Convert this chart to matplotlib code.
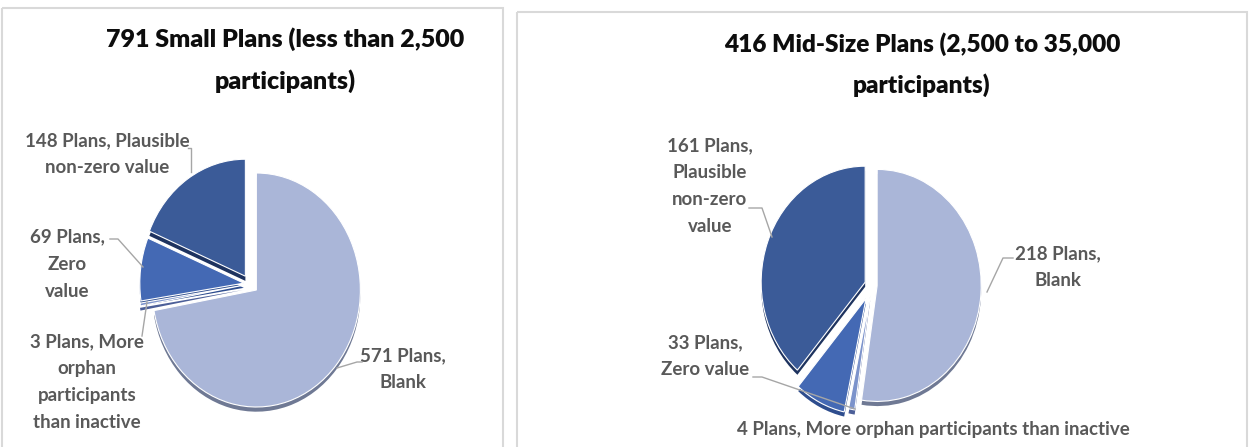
import matplotlib
matplotlib.use('Agg')
import matplotlib.pyplot as plt
from matplotlib.patches import Rectangle

W, H = 1249, 447

# ---- data ----
categories = ["Blank", "More orphan participants than inactive", "Zero value", "Plausible non-zero value"]
small_values = [571, 3, 69, 148]
mid_values = [218, 4, 33, 161]
small_title = "791 Small Plans (less than 2,500\nparticipants)"
mid_title = "416 Mid-Size Plans (2,500 to 35,000\nparticipants)"
small_labels = ["571 Plans,\nBlank", "3 Plans, More\norphan\nparticipants\nthan inactive",
                "69 Plans,\nZero\nvalue", "148 Plans, Plausible\nnon-zero value"]
mid_labels = ["218 Plans,\nBlank", "4 Plans, More orphan participants than inactive",
              "33 Plans,\nZero value", "161 Plans,\nPlausible\nnon-zero\nvalue"]

# ---- style ----
colors = ['#AAB6D8', '#7C93CB', '#4469B4', '#3B5B98']
depth = ['#6F7994', '#4C5F98', '#2E4D8E', '#1E335F']
FONT = 'Lato'
LABEL_C = '#595959'
LEADER_C = '#A6A6A6'

fig = plt.figure(figsize=(W / 100, H / 100), dpi=100)
fig.patch.set_facecolor('white')

bg = fig.add_axes([0, 0, 1, 1], zorder=0)
bg.set_xlim(0, W); bg.set_ylim(H, 0); bg.axis('off')
bg.add_patch(Rectangle((2, 8), 501, 460, fill=False, edgecolor='#D9D9D9', lw=1.5))
bg.add_patch(Rectangle((517, 12), 730, 460, fill=False, edgecolor='#D9D9D9', lw=1.5))


def draw_pie(values, cx, cy, rx, ry, explode, pad=1.35):
    w = 2 * pad * rx
    h = 2 * pad * ry
    ax = fig.add_axes([(cx - w / 2) / W, (H - cy - h / 2) / H, w / W, h / H], zorder=1)
    ax.pie(values, colors=depth, startangle=90, counterclock=False, explode=explode,
           center=(0, -0.04), wedgeprops=dict(edgecolor='none'))
    ax.pie(values, colors=colors, startangle=90, counterclock=False, explode=explode,
           wedgeprops=dict(edgecolor='white', linewidth=0.8))
    ax.set_aspect('auto')
    ax.set_xlim(-pad, pad)
    ax.set_ylim(-pad, pad)
    ax.axis('off')
    return ax


draw_pie(small_values, 250, 284, 104, 117, [0.08, 0.07, 0.06, 0.08])
draw_pie(mid_values, 872, 285, 104, 116, [0.05, 0.09, 0.13, 0.07])

ov = fig.add_axes([0, 0, 1, 1], zorder=2)
ov.set_xlim(0, W); ov.set_ylim(H, 0); ov.axis('off')
ov.patch.set_alpha(0)

# titles
ov.text(285, 60, small_title, ha='center', va='center', fontsize=18, fontweight='heavy',
        family=FONT, color='#0D0D0D', linespacing=1.9)
ov.text(922, 65, mid_title, ha='center', va='center', fontsize=17.6, fontweight='heavy',
        family=FONT, color='#0D0D0D', linespacing=1.9)

# labels (left)
lab = dict(ha='center', va='center', fontsize=13.5, fontweight='bold', family=FONT,
           color=LABEL_C, linespacing=1.72)
ov.text(403, 369, small_labels[0], **lab)
ov.text(87, 382, small_labels[1], **lab)
ov.text(67, 264, small_labels[2], **lab)
ov.text(107, 154, small_labels[3], **lab)
# labels (right)
ov.text(1058, 267, mid_labels[0], **lab)
ov.text(933, 430, mid_labels[1], **lab)
ov.text(705, 356, mid_labels[2], **lab)
ov.text(710, 186, mid_labels[3], **lab)

# leader lines
leaders = [
    [(188, 148), (191, 148), (191, 172)],
    [(110, 239), (118, 239), (143, 267)],
    [(147, 302), (142, 336)],
    [(362, 362), (357, 362), (337, 368)],
    [(749, 208), (762, 208), (772, 237)],
    [(1013, 258), (1003, 258), (987, 292)],
    [(753, 377), (762, 377), (855, 409)],
]
for pts in leaders:
    xs, ys = zip(*pts)
    ov.plot(xs, ys, color=LEADER_C, lw=1)

fig.savefig('out.png', dpi=100)
